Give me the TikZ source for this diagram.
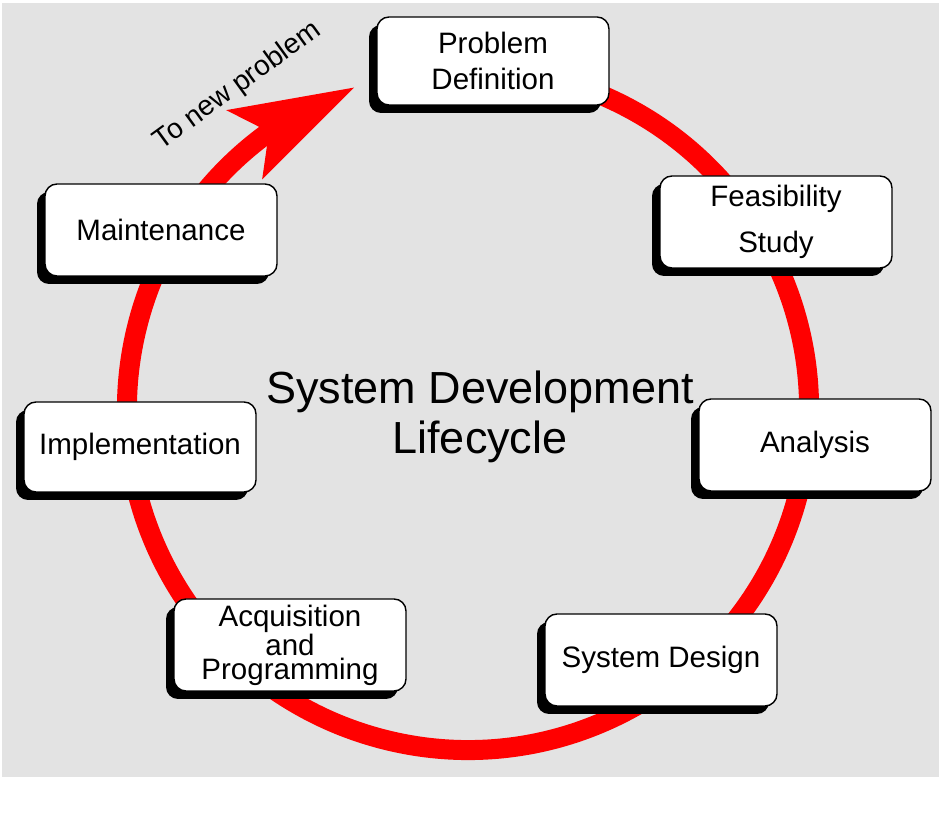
\documentclass[tikz,border=0pt]{standalone}
\usepackage{fontspec}
\setmainfont{Liberation Sans}
\usetikzlibrary{arrows.meta,bending,shadows}

\begin{document}
\begin{tikzpicture}[line cap=round,
  phase/.style={draw=black,line width=1pt,fill=white,rounded corners=0.3cm,
    minimum width=5.8cm,minimum height=2.3cm,align=center,
    font=\fontsize{21}{26}\selectfont,
    drop shadow={shadow xshift=-0.2cm,shadow yshift=-0.2cm,fill=black,opacity=1}},
  loopline/.style={red,line width=0.5cm,line cap=butt}]
  \useasboundingbox (0,0) rectangle (23.7,20.45);
  \fill[white] (0,0) rectangle (23.7,20.45);
  \fill[gray!22] (0.05,1.025) rectangle (23.475,20.375);

  \coordinate (hub) at (11.7,10.225);
  \draw[loopline,-{Stealth[length=3.1cm,width=1.95cm,inset=0.7cm,line width=0pt]}]
    (hub) ++(75:8.525) arc[start angle=75,end angle=-250.5,radius=8.525];

  \node[phase,minimum height=2.2cm] (define) at (12.325,18.925) {Problem\\Definition};
  \node[phase,font=\fontsize{21}{33}\selectfont] (feasible) at (19.4,14.9) {Feasibility\\Study};
  \node[phase] (analysis) at (20.375,9.325) {Analysis};
  \node[phase] (design) at (16.525,3.95) {System Design};
  \node[phase,font=\fontsize{21}{17}\selectfont] (acquire) at (7.25,4.325)
    {Acquisition\\and\\Programming};
  \node[phase,minimum height=2.25cm] (implement) at (3.5,9.275) {Implementation};
  \node[phase] (maintain) at (4.025,14.7) {Maintenance};

  \node[font=\fontsize{32}{36}\selectfont,align=center] (title) at (12.0,10.025)
    {System Development\\Lifecycle};
  \node[rotate=36,font=\fontsize{20}{24}\selectfont] (tonew) at (5.95,18.3) {To new problem};
\end{tikzpicture}
\end{document}
